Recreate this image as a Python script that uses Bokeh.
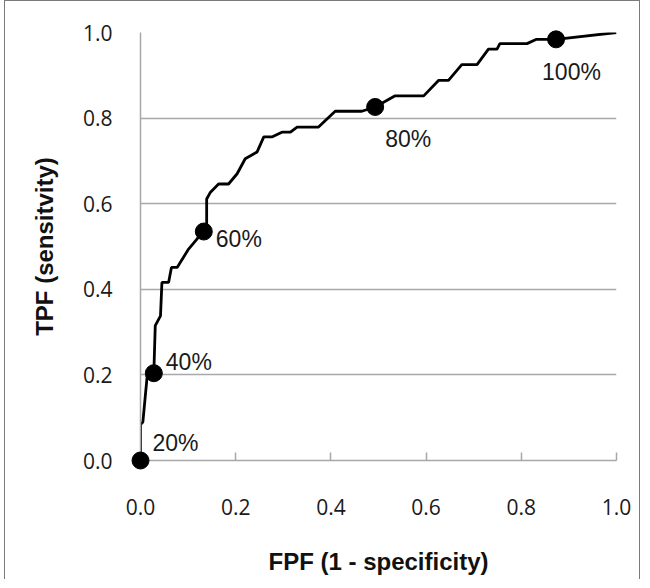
from bokeh.plotting import figure
from bokeh.models import ColumnDataSource, FixedTicker, CustomJSTickFormatter
from bokeh.embed import file_html
from bokeh.resources import INLINE
from bokeh.core.properties import value

# ROC curve vertices (FPF, TPF)
fpf = [0.000, 0.000, 0.005, 0.014, 0.028, 0.031, 0.042, 0.045, 0.059, 0.065, 0.077,
       0.101, 0.119, 0.133, 0.139, 0.139, 0.147, 0.164, 0.185, 0.203, 0.220, 0.245,
       0.259, 0.276, 0.297, 0.315, 0.329, 0.374, 0.409, 0.465, 0.493, 0.535, 0.595,
       0.626, 0.647, 0.675, 0.707, 0.731, 0.749, 0.755, 0.812, 0.832, 0.873, 1.000]
tpf = [0.000, 0.084, 0.090, 0.197, 0.204, 0.315, 0.338, 0.416, 0.416, 0.451, 0.451,
       0.494, 0.518, 0.535, 0.540, 0.611, 0.627, 0.646, 0.646, 0.670, 0.705, 0.721,
       0.756, 0.756, 0.767, 0.767, 0.779, 0.779, 0.816, 0.816, 0.826, 0.852, 0.852,
       0.888, 0.888, 0.925, 0.925, 0.961, 0.961, 0.974, 0.974, 0.984, 0.984, 1.000]

# Threshold markers
mark_fpf = [0.000, 0.028, 0.133, 0.493, 0.873]
mark_tpf = [0.000, 0.204, 0.535, 0.826, 0.984]
mark_labels = ["20%", "40%", "60%", "80%", "100%"]

ticks = [0.0, 0.2, 0.4, 0.6, 0.8, 1.0]

p = figure(width=636, height=579, output_backend="svg", toolbar_location=None,
           x_range=(0, 1), y_range=(0, 1),
           min_border_left=135, min_border_top=31, min_border_right=25, min_border_bottom=120)
p.styles = {"border-left": "1px solid #7a7a7a", "border-top": "1px solid #7a7a7a",
            "border-right": "1px solid #7a7a7a", "margin-left": "4px"}
p.outline_line_color = None
p.background_fill_color = "white"
p.border_fill_color = "white"

p.xgrid.visible = False
p.ygrid.ticker = FixedTicker(ticks=ticks)
p.ygrid.grid_line_color = "#a8a8a8"
p.ygrid.grid_line_width = 1.5

for ax in (p.xaxis[0], p.yaxis[0]):
    ax.ticker = FixedTicker(ticks=ticks)
    ax.formatter = CustomJSTickFormatter(code="return tick.toFixed(1);")
    ax.axis_line_color = "#a8a8a8"
    ax.axis_line_width = 1.5
    ax.major_label_text_font = "Open Sans"
    ax.major_label_text_font_size = "21px"
    ax.major_label_text_color = "#1a1a1a"
    ax.minor_tick_line_color = None
    ax.axis_label_text_font = "Liberation Sans"
    ax.axis_label_text_font_style = "bold"
    ax.axis_label_text_font_size = "24px"
    ax.axis_label_text_color = "#111111"

p.xaxis[0].major_tick_in = 8
p.xaxis[0].major_tick_out = 0
p.xaxis[0].major_tick_line_color = "#a8a8a8"
p.xaxis[0].major_tick_line_width = 1.5
p.xaxis[0].major_label_standoff = 38
p.xaxis[0].axis_label = "FPF (1 - specificity)"
p.xaxis[0].axis_label_standoff = 30

p.yaxis[0].major_tick_in = 0
p.yaxis[0].major_tick_out = 0
p.yaxis[0].major_label_standoff = 28
p.yaxis[0].axis_label = "TPF (sensitvity)"
p.yaxis[0].axis_label_standoff = 22

curve = ColumnDataSource(dict(x=fpf, y=tpf))
p.line("x", "y", source=curve, line_color="black", line_width=2.8)

marks = ColumnDataSource(dict(x=mark_fpf, y=mark_tpf, label=mark_labels,
                              dx=[12, 12, 12, 10, -14], dy=[-18, -11, 7, 32, 33]))
p.scatter("x", "y", source=marks, size=17, fill_color="black", line_color="black",
          level="overlay")
p.text("x", "y", text="label", source=marks, x_offset="dx", y_offset="dy",
       text_font=value("Liberation Sans"), text_font_size="23px",
       text_baseline="middle", text_align="left", text_color="#1a1a1a")

open("out.html", "w").write(file_html(p, INLINE))
